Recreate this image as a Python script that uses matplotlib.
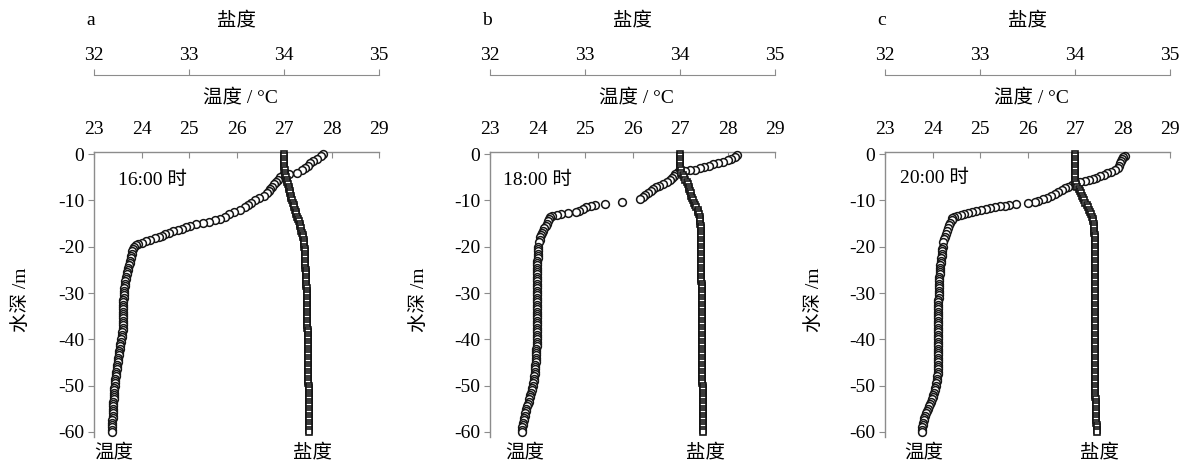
import matplotlib
matplotlib.use('Agg')
import matplotlib.pyplot as plt

plt.rcParams['font.family'] = ['Liberation Serif', 'Noto Sans CJK SC']
plt.rcParams['axes.unicode_minus'] = False
plt.rcParams['font.size'] = 14

######### DATOS #########

letras = ['a', 'b', 'c']
horas = ['16:00 时', '18:00 时', '20:00 时']

t_ticks = [23, 24, 25, 26, 27, 28, 29]
s_ticks = [32, 33, 34, 35]
y_ticks = [0, -10, -20, -30, -40, -50, -60]

# rejilla de 0.5 m (salinidad y parte profunda de la temperatura)
prof = [0, -0.5, -1, -1.5, -2, -2.5, -3, -3.5, -4, -4.5,
        -5, -5.5, -6, -6.5, -7, -7.5, -8, -8.5, -9, -9.5,
        -10, -10.5, -11, -11.5, -12, -12.5, -13, -13.5, -14, -14.5,
        -15, -15.5, -16, -16.5, -17, -17.5, -18, -18.5, -19, -19.5,
        -20, -20.5, -21, -21.5, -22, -22.5, -23, -23.5, -24, -24.5,
        -25, -25.5, -26, -26.5, -27, -27.5, -28, -28.5, -29, -29.5,
        -30, -30.5, -31, -31.5, -32, -32.5, -33, -33.5, -34, -34.5,
        -35, -35.5, -36, -36.5, -37, -37.5, -38, -38.5, -39, -39.5,
        -40, -40.5, -41, -41.5, -42, -42.5, -43, -43.5, -44, -44.5,
        -45, -45.5, -46, -46.5, -47, -47.5, -48, -48.5, -49, -49.5,
        -50, -50.5, -51, -51.5, -52, -52.5, -53, -53.5, -54, -54.5,
        -55, -55.5, -56, -56.5, -57, -57.5, -58, -58.5, -59, -59.5,
        -60]

# --- 16:00 ---
prof_t_a = [0, -0.5, -1, -1.5, -2, -2.5, -3, -3.5, -4, -4.3, -4.6,
            -5, -5.5, -6, -6.5, -7, -7.5, -8, -8.5, -9, -9.5, -10,
            -10.5, -11, -11.5, -12, -12.5, -13, -13.5, -14,
            -14.3, -14.6, -14.9, -15.2, -15.5, -15.8, -16.1, -16.4, -16.7, -17,
            -17.3, -17.6, -17.9, -18.2, -18.5, -18.8, -19.1, -19.4, -19.7, -20] + prof[41:]
temp_a = [27.82, 27.78, 27.70, 27.62, 27.55, 27.50, 27.45, 27.38, 27.28, 27.10, 26.98,
          26.92, 26.87, 26.83, 26.79, 26.75, 26.71, 26.68, 26.64, 26.58, 26.48, 26.38,
          26.30, 26.24, 26.17, 26.07, 25.95, 25.85, 25.75, 25.65,
          25.55, 25.43, 25.30, 25.15, 25.03, 24.93, 24.85, 24.76, 24.66, 24.57,
          24.50, 24.43, 24.36, 24.28, 24.18, 24.10, 24.00, 23.93, 23.88, 23.85,
          23.83, 23.81, 23.80, 23.78, 23.77, 23.76, 23.75, 23.74, 23.72, 23.71,
          23.70, 23.69, 23.68, 23.67, 23.66, 23.65, 23.65, 23.64, 23.63, 23.63,
          23.63, 23.63, 23.62, 23.62, 23.61, 23.61, 23.61, 23.61, 23.60, 23.60,
          23.60, 23.60, 23.60, 23.60, 23.60, 23.60, 23.59, 23.59, 23.58, 23.57,
          23.56, 23.55, 23.55, 23.54, 23.53, 23.52, 23.52, 23.51, 23.50, 23.50,
          23.49, 23.48, 23.48, 23.47, 23.46, 23.46, 23.45, 23.45, 23.44, 23.44,
          23.43, 23.43, 23.42, 23.42, 23.42, 23.42, 23.41, 23.41, 23.41, 23.41,
          23.40, 23.40, 23.39, 23.39, 23.38, 23.38, 23.38, 23.38, 23.37, 23.37]
sal_a = [34.000, 34.000, 34.000, 34.000, 34.000, 34.002, 34.005, 34.007, 34.010, 34.015,
         34.020, 34.027, 34.035, 34.042, 34.050, 34.055, 34.060, 34.065, 34.070, 34.077,
         34.085, 34.092, 34.100, 34.107, 34.115, 34.122, 34.130, 34.140, 34.150, 34.157,
         34.165, 34.170, 34.175, 34.182, 34.190, 34.197, 34.205, 34.207, 34.210, 34.212,
         34.215, 34.216, 34.218, 34.219, 34.220, 34.221, 34.222, 34.223, 34.225, 34.226,
         34.228, 34.229, 34.230, 34.231, 34.232, 34.233, 34.235, 34.236, 34.238, 34.239,
         34.240, 34.240, 34.241, 34.241, 34.242, 34.242, 34.243, 34.243, 34.244, 34.244,
         34.245, 34.245, 34.246, 34.246, 34.247, 34.247, 34.248, 34.248, 34.249, 34.249,
         34.250, 34.250, 34.250, 34.250, 34.251, 34.251, 34.252, 34.252, 34.253, 34.253,
         34.254, 34.254, 34.255, 34.255, 34.256, 34.256, 34.256, 34.256, 34.257, 34.257,
         34.258, 34.258, 34.259, 34.259, 34.260, 34.260, 34.260, 34.260, 34.261, 34.261,
         34.262, 34.262, 34.263, 34.263, 34.263, 34.263, 34.264, 34.264, 34.265, 34.265,
         34.265]

# --- 18:00 ---
prof_t_b = [-0.2, -0.6, -1.0, -1.3, -1.6, -1.9, -2.2, -2.5, -2.8, -3.1,
            -3.4, -3.5, -3.6, -3.8, -4.2, -4.7, -5.2, -5.6, -6.0, -6.4,
            -6.8, -7.2, -7.6, -8.0, -8.4, -8.8, -9.2, -9.7, -10.3, -10.7,
            -10.9, -11.1, -11.5, -11.8, -12.2, -12.5, -12.8, -13.0, -13.2, -13.4,
            -13.6, -14.0, -14.5, -15.0, -15.5, -16.0, -16.5, -17.0, -17.5, -18.0,
            -18.5, -19.0, -20.0] + prof[41:]
temp_b = [28.20, 28.15, 28.08, 28.00, 27.90, 27.80, 27.70, 27.60, 27.50, 27.42,
          27.32, 27.20, 27.10, 26.95, 26.90, 26.88, 26.84, 26.78, 26.72, 26.64,
          26.56, 26.50, 26.44, 26.38, 26.32, 26.26, 26.22, 26.16, 25.77, 25.42,
          25.20, 25.12, 25.02, 24.95, 24.88, 24.82, 24.65, 24.50, 24.40, 24.30,
          24.27, 24.25, 24.22, 24.20, 24.17, 24.14, 24.12, 24.10, 24.08, 24.06,
          24.05, 24.03, 24.02,
          24.02, 24.01, 24.01, 24.00, 24.00, 23.99, 23.99, 23.99, 23.99, 23.99,
          23.98, 23.98, 23.98, 23.98, 23.98, 23.98, 23.98, 23.98, 23.98, 23.98,
          23.98, 23.98, 23.98, 23.98, 23.98, 23.98, 23.98, 23.98, 23.98, 23.98,
          23.98, 23.98, 23.98, 23.98, 23.98, 23.98, 23.98, 23.98, 23.98, 23.98,
          23.98, 23.98, 23.98, 23.97, 23.97, 23.97, 23.97, 23.96, 23.96, 23.96,
          23.95, 23.95, 23.95, 23.94, 23.94, 23.93, 23.93, 23.92, 23.91, 23.90,
          23.89, 23.88, 23.87, 23.85, 23.84, 23.82, 23.81, 23.79, 23.78, 23.76,
          23.75, 23.74, 23.73, 23.72, 23.71, 23.70, 23.69, 23.68, 23.68, 23.67]
sal_b = [33.995, 33.995, 33.995, 33.995, 33.995, 33.995, 34.000, 34.007, 34.015, 34.027,
         34.040, 34.055, 34.070, 34.080, 34.090, 34.097, 34.105, 34.112, 34.120, 34.127,
         34.135, 34.147, 34.160, 34.172, 34.185, 34.192, 34.200, 34.205, 34.210, 34.212,
         34.215, 34.216, 34.218, 34.219, 34.220, 34.220, 34.220, 34.221, 34.222, 34.222,
         34.222, 34.222, 34.222, 34.222, 34.223, 34.223, 34.223, 34.223, 34.224, 34.224,
         34.224, 34.224, 34.225, 34.225, 34.225, 34.225, 34.226, 34.226, 34.226, 34.226,
         34.227, 34.227, 34.227, 34.227, 34.228, 34.228, 34.228, 34.228, 34.229, 34.229,
         34.229, 34.229, 34.230, 34.230, 34.230, 34.230, 34.231, 34.231, 34.231, 34.231,
         34.232, 34.232, 34.232, 34.232, 34.233, 34.233, 34.233, 34.233, 34.234, 34.234,
         34.234, 34.234, 34.235, 34.235, 34.235, 34.235, 34.236, 34.236, 34.236, 34.236,
         34.237, 34.237, 34.237, 34.237, 34.238, 34.238, 34.238, 34.238, 34.238, 34.238,
         34.239, 34.239, 34.239, 34.239, 34.239, 34.239, 34.240, 34.240, 34.240, 34.240,
         34.240]

# --- 20:00 ---
prof_t_c = [-0.3, -0.7, -1.1, -1.5, -2.0, -2.5, -3.0, -3.4, -3.8, -4.1,
            -4.5, -4.8, -5.1, -5.3, -5.5, -5.7, -6.0, -6.3, -6.6, -7.0,
            -7.4, -7.8, -8.2, -8.6, -9.0, -9.4, -9.8, -10.1, -10.3, -10.5,
            -10.7, -10.9, -11.1, -11.3, -11.5, -11.7, -11.9, -12.1, -12.3, -12.5,
            -12.7, -12.9, -13.1, -13.3, -13.5, -13.8, -14.2, -14.8, -15.4, -16.0,
            -16.6, -17.2, -17.8, -18.4, -19.0, -20.0] + prof[41:]
temp_c = [28.05, 28.02, 27.99, 27.97, 27.95, 27.93, 27.90, 27.84, 27.76, 27.68,
          27.60, 27.52, 27.45, 27.38, 27.30, 27.20, 27.10, 27.00, 26.93, 26.85,
          26.78, 26.72, 26.64, 26.57, 26.50, 26.42, 26.33, 26.22, 26.16, 26.00,
          25.75, 25.62, 25.52, 25.42, 25.32, 25.22, 25.12, 25.02, 24.92, 24.84,
          24.75, 24.67, 24.60, 24.52, 24.46, 24.42, 24.40, 24.37, 24.34, 24.32,
          24.30, 24.28, 24.26, 24.24, 24.23, 24.22,
          24.21, 24.20, 24.20, 24.19, 24.18, 24.17, 24.17, 24.16, 24.16, 24.15,
          24.15, 24.15, 24.14, 24.14, 24.14, 24.14, 24.13, 24.13, 24.13, 24.13,
          24.13, 24.13, 24.12, 24.12, 24.12, 24.12, 24.12, 24.12, 24.12, 24.12,
          24.12, 24.12, 24.12, 24.12, 24.12, 24.12, 24.12, 24.12, 24.12, 24.12,
          24.12, 24.12, 24.12, 24.12, 24.12, 24.12, 24.12, 24.12, 24.12, 24.12,
          24.12, 24.12, 24.11, 24.11, 24.11, 24.10, 24.10, 24.09, 24.08, 24.07,
          24.06, 24.05, 24.04, 24.02, 24.00, 23.98, 23.96, 23.94, 23.92, 23.90,
          23.88, 23.86, 23.85, 23.83, 23.82, 23.80, 23.79, 23.78, 23.78, 23.77]
sal_c = [34.000, 34.000, 34.000, 34.000, 34.000, 34.000, 34.000, 34.000, 34.000, 34.000,
         34.000, 34.002, 34.005, 34.015, 34.025, 34.037, 34.050, 34.062, 34.075, 34.085,
         34.095, 34.110, 34.125, 34.137, 34.150, 34.160, 34.170, 34.177, 34.185, 34.190,
         34.195, 34.197, 34.200, 34.202, 34.205, 34.207, 34.210, 34.210, 34.210, 34.210,
         34.210, 34.210, 34.210, 34.210, 34.210, 34.210, 34.209, 34.209, 34.209, 34.209,
         34.208, 34.208, 34.208, 34.208, 34.208, 34.208, 34.208, 34.208, 34.207, 34.207,
         34.207, 34.207, 34.207, 34.207, 34.207, 34.207, 34.207, 34.207, 34.207, 34.207,
         34.208, 34.208, 34.208, 34.208, 34.208, 34.208, 34.209, 34.209, 34.209, 34.209,
         34.210, 34.210, 34.210, 34.210, 34.210, 34.210, 34.210, 34.210, 34.210, 34.210,
         34.210, 34.210, 34.210, 34.210, 34.210, 34.210, 34.211, 34.211, 34.211, 34.211,
         34.211, 34.211, 34.212, 34.213, 34.214, 34.215, 34.216, 34.217, 34.218, 34.219,
         34.220, 34.221, 34.222, 34.223, 34.224, 34.225, 34.226, 34.227, 34.228, 34.229,
         34.230]

######### ESTILO #########
gris = '#8c8c8c'
tinta = '#151515'
izquierdas = [0.079, 0.4118, 0.7437]
ylab_x = [-0.225, -0.218, -0.218]
hora_x = [23.5, 23.28, 23.32]
hora_y = [-5.6, -5.6, -5.2]
ancho = 0.2395
abajo = 0.0673
alto = 0.6083


def pintar_panel(fig, i, prof_t, temp, sal):
    left = izquierdas[i]

    # --- ejes principales (temperatura vs profundidad) ---
    ax = fig.add_axes([left, abajo, ancho, alto])
    # salinidad en un eje gemelo 32-35 (sin ejes visibles)
    axs = ax.twiny()
    axs.set_xlim(32, 35)
    axs.set_ylim(-61, 0.5)
    axs.axis('off')

    ax.set_xlim(23, 29)
    ax.set_ylim(-61, 0.5)
    for lado in ['right', 'bottom']:
        ax.spines[lado].set_visible(False)
    for lado in ['left', 'top']:
        ax.spines[lado].set_color(gris)
        ax.spines[lado].set_linewidth(1.0)
    ax.xaxis.set_ticks_position('top')
    ax.set_xticks(t_ticks)
    ax.set_yticks(y_ticks)
    ax.tick_params(axis='x', direction='in', length=4, color=gris, pad=10,
                   labelsize=14, top=True, bottom=False,
                   labeltop=True, labelbottom=False)
    ax.tick_params(axis='y', direction='out', length=4, color=gris, pad=3,
                   labelsize=14)
    ax.set_ylabel('水深 /m', fontsize=14)
    ax.yaxis.set_label_coords(ylab_x[i], 0.48)

    # temperatura: circulos, salinidad: cuadrados
    ax.plot(temp, prof_t, linestyle='none', marker='o', markersize=5.6,
            markerfacecolor='white', markeredgecolor=tinta,
            markeredgewidth=1.1, clip_on=False, zorder=3)
    axs.plot(sal, prof, linestyle='none', marker='s', markersize=4.6,
             markerfacecolor='white', markeredgecolor=tinta,
             markeredgewidth=1.2, clip_on=False, zorder=3)

    ax.text(hora_x[i], hora_y[i], horas[i], fontsize=14, ha='left', va='center')
    ax.text(temp[-1] + 0.05, -64.4, '温度', fontsize=14, ha='center',
            va='center', clip_on=False)
    axs.text(sal[-1] + 0.03, -64.4, '盐度', fontsize=14, ha='center',
             va='center', clip_on=False)

    # --- eje de salinidad superior ---
    ax_top = fig.add_axes([left, 0.8397, ancho, 0.02])
    ax_top.set_xlim(32, 35)
    ax_top.set_ylim(0, 1)
    ax_top.patch.set_visible(False)
    for lado in ['left', 'right', 'top']:
        ax_top.spines[lado].set_visible(False)
    ax_top.spines['bottom'].set_color(gris)
    ax_top.set_yticks([])
    ax_top.set_xticks(s_ticks)
    ax_top.tick_params(axis='x', direction='in', length=4, color=gris,
                       bottom=True, top=False, labelbottom=False,
                       labeltop=True, pad=1.5, labelsize=14)

    centro = left + ancho / 2
    fig.text(centro, 0.957, '盐度', fontsize=14, ha='center', va='center')
    fig.text(left - 0.0025, 0.957, letras[i], fontsize=14, ha='center',
             va='center')
    fig.text(centro + 0.003, 0.7927, '温度 / °C', fontsize=14, ha='center',
             va='center')


fig = plt.figure(figsize=(11.9, 4.68), dpi=100)
pintar_panel(fig, 0, prof_t_a, temp_a, sal_a)
pintar_panel(fig, 1, prof_t_b, temp_b, sal_b)
pintar_panel(fig, 2, prof_t_c, temp_c, sal_c)
fig.savefig('out.png', dpi=100)
